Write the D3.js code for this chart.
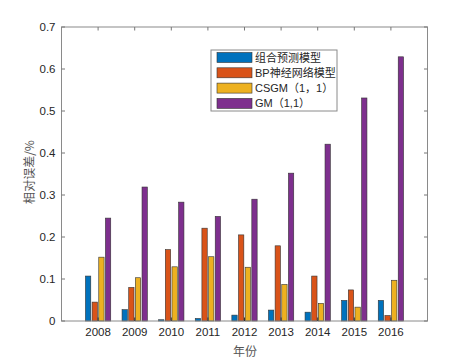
<!DOCTYPE html>
<html>
<head>
<meta charset="utf-8">
<script src="https://cdn.jsdelivr.net/npm/d3@7"></script>
<style>
  body { margin: 0; background: #fff; }
  text { font-family: Arial, "Liberation Sans", sans-serif; }
</style>
</head>
<body>
<svg width="472" height="360"></svg>
<script>
// data
const years = [2008, 2009, 2010, 2011, 2012, 2013, 2014, 2015, 2016];
const seriesNames = ['组合预测模型', 'BP神经网络模型', 'CSGM（1，1）', 'GM（1,1）'];
const combined = [0.107, 0.027, 0.003, 0.006, 0.014, 0.026, 0.021, 0.049, 0.049];
const bpNet    = [0.045, 0.080, 0.170, 0.221, 0.205, 0.179, 0.107, 0.074, 0.013];
const csgm     = [0.152, 0.103, 0.129, 0.153, 0.128, 0.087, 0.042, 0.033, 0.097];
const gm       = [0.245, 0.319, 0.283, 0.249, 0.290, 0.352, 0.421, 0.531, 0.629];
const yTicks = [0, 0.1, 0.2, 0.3, 0.4, 0.5, 0.6, 0.7];
const colors = ['#0072BD', '#D95319', '#EDB120', '#7E2F8E'];

const series = [combined, bpNet, csgm, gm];

const M = {left: 61.5, right: 427.5, top: 27, bottom: 321};
const svg = d3.select('svg');

const x = d3.scaleLinear().domain([2007, 2017]).range([M.left, M.right]);
const y = d3.scaleLinear().domain([0, 0.7]).range([M.bottom, M.top]);

// grouped bar geometry like matlab bar()
const step = x(2008) - x(2007);
const groupW = step * Math.min(0.8, 4 / 5.5);
const barStep = groupW / 4;
const barW = barStep * 0.8;

const chart = svg.append('g');
series.forEach((vals, si) => {
  chart.selectAll('.bar' + si)
    .data(vals)
    .enter()
    .append('rect')
    .attr('class', 'bar' + si)
    .attr('x', (d, i) => x(years[i]) - groupW / 2 + si * barStep + (barStep - barW) / 2)
    .attr('y', d => y(d))
    .attr('width', barW)
    .attr('height', d => y(0) - y(d))
    .attr('fill', colors[si])
    .attr('stroke', '#333')
    .attr('stroke-width', 0.6);
});

// box
svg.append('rect')
  .attr('x', M.left).attr('y', M.top)
  .attr('width', M.right - M.left).attr('height', M.bottom - M.top)
  .attr('fill', 'none').attr('stroke', '#8a8a8a').attr('stroke-width', 1);

// ticks (inward, on all sides)
const tk = 3.5;
years.forEach(yr => {
  svg.append('line').attr('x1', x(yr)).attr('x2', x(yr)).attr('y1', M.bottom).attr('y2', M.bottom - tk)
    .attr('stroke', '#333').attr('stroke-width', 1);
  svg.append('line').attr('x1', x(yr)).attr('x2', x(yr)).attr('y1', M.top).attr('y2', M.top + tk)
    .attr('stroke', '#777').attr('stroke-width', 1);
  svg.append('text').attr('x', x(yr)).attr('y', M.bottom + 15)
    .attr('text-anchor', 'middle').attr('font-size', 11.5).attr('fill', '#262626').text(yr);
});
yTicks.forEach(t => {
  svg.append('line').attr('x1', M.left).attr('x2', M.left + tk).attr('y1', y(t)).attr('y2', y(t))
    .attr('stroke', '#777').attr('stroke-width', 1);
  svg.append('line').attr('x1', M.right).attr('x2', M.right - tk).attr('y1', y(t)).attr('y2', y(t))
    .attr('stroke', '#777').attr('stroke-width', 1);
  svg.append('text').attr('x', M.left - 6).attr('y', y(t) + 4)
    .attr('text-anchor', 'end').attr('font-size', 11.5).attr('fill', '#262626').text(t);
});

// axis labels
svg.append('text').attr('x', 245).attr('y', 356)
  .attr('text-anchor', 'middle').attr('font-size', 12).attr('fill', '#555')
  .style('font-family', '"Noto Sans CJK SC", sans-serif').text('年份');
svg.append('text').attr('transform', 'translate(34,172) rotate(-90)')
  .attr('text-anchor', 'middle').attr('font-size', 12).attr('fill', '#555')
  .style('font-family', '"Noto Sans CJK SC", sans-serif').text('相对误差/%');

// legend
const lg = svg.append('g').attr('transform', 'translate(211,50)');
lg.append('rect').attr('width', 126).attr('height', 61)
  .attr('fill', '#fff').attr('stroke', '#8a8a8a').attr('stroke-width', 1);
seriesNames.forEach((name, i) => {
  const cy = 7.5 + i * 15.3;
  lg.append('rect').attr('x', 6).attr('y', cy - 5).attr('width', 35).attr('height', 10)
    .attr('fill', colors[i]).attr('stroke', '#333').attr('stroke-width', 0.6);
  lg.append('text').attr('x', 44).attr('y', cy + 4).attr('font-size', 11).attr('fill', '#262626')
    .style('font-family', 'Arial, "Noto Sans CJK SC", sans-serif').text(name);
});
</script>
</body>
</html>
